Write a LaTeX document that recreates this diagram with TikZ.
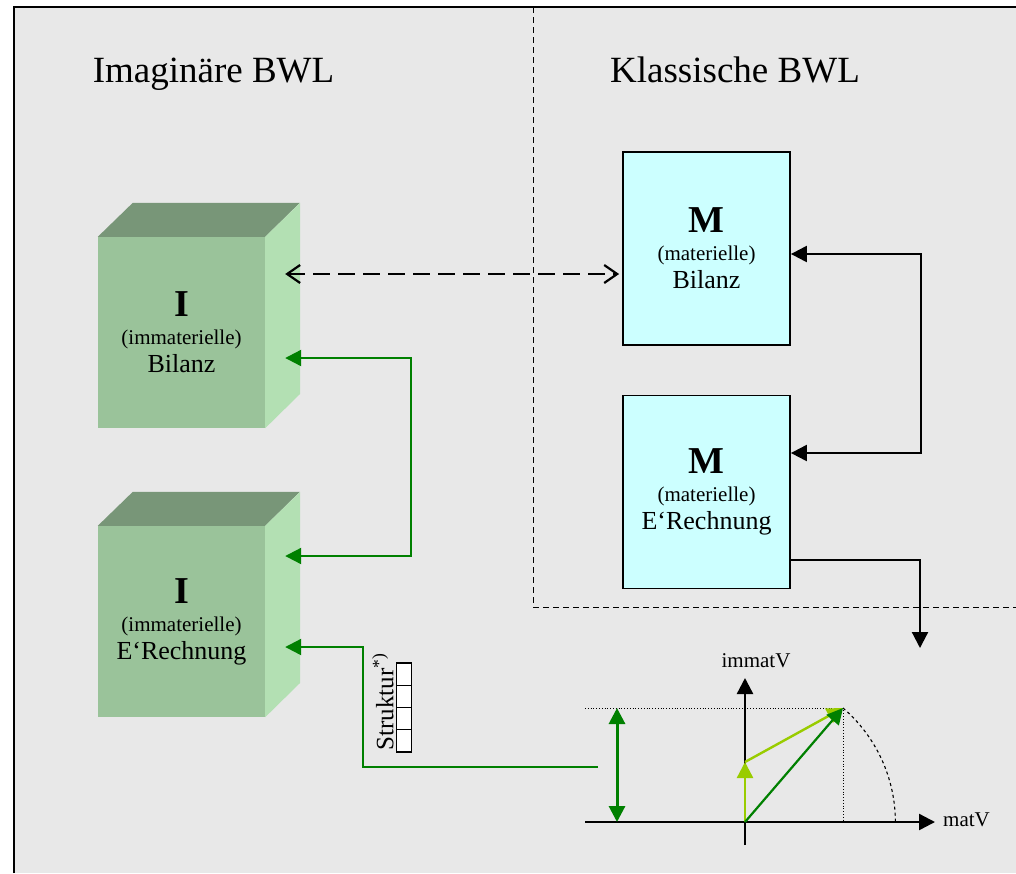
\documentclass[tikz,border=0pt]{standalone}
\usepackage{fontspec}
\setmainfont{Liberation Serif}
\usepackage{tikz}
\usetikzlibrary{arrows.meta,calc}
\definecolor{bggray}{HTML}{E8E8E8}
\definecolor{cfront}{HTML}{9AC39A}
\definecolor{ctop}{HTML}{789678}
\definecolor{cside}{HTML}{B3E0B3}
\definecolor{mcyan}{HTML}{CCFFFF}
\definecolor{dgreen}{HTML}{008000}
\definecolor{lgreen}{HTML}{99CC00}
\newcommand{\boxletter}[1]{{\fontsize{38}{28}\selectfont\bfseries #1}}
\newcommand{\boxname}[1]{{\fontsize{26}{28}\selectfont #1}}

\begin{document}
\begin{tikzpicture}[
  x=1pt, y=-1pt,
  title/.style={font=\fontsize{37}{40}\selectfont, anchor=base},
  front/.style={fill=cfront, minimum width=167pt, minimum height=191pt, align=center, inner sep=0pt, font=\fontsize{21}{28}\selectfont},
  mbox/.style={draw, line width=1.8pt, fill=mcyan, minimum width=167pt, minimum height=193pt, align=center, inner sep=0pt, font=\fontsize{21}{28}\selectfont},
  tip/.tip={Triangle[length=16pt,width=16pt]},
  barr/.style={line width=2.2pt, -tip},
  garr/.style={dgreen, line width=2.2pt, -tip},
  larr/.style={lgreen, line width=2.4pt, -tip},
  axisline/.style={line width=2.4pt, -{Triangle[length=16pt,width=16pt]}},
  cell/.style={draw, line width=1.2pt, fill=white, minimum width=15pt, minimum height=22.25pt, inner sep=0pt},
  lbl/.style={font=\fontsize{21}{21}\selectfont, inner sep=0pt}
]
\useasboundingbox (0,0) rectangle (1016,873);
\fill[white] (0,0) rectangle (1016,873);
\fill[bggray] (14,7) rectangle (1016,873);
\draw[line width=2pt] (14,873) -- (14,7) -- (1016,7);
\draw[line width=0.9pt, dash pattern=on 6pt off 4pt] (533,7) -- (533,607) -- (1016,607);

\node[title] (imag) at (213.5,82) {Imaginäre BWL};
\node[title] (klass) at (735,82) {Klassische BWL};

\node[front] (icube1) at (181.5,332.5) {\boxletter{I}\\(immaterielle)\\\boxname{Bilanz}};
\node[front] (icube2) at (181.5,621.5) {\boxletter{I}\\(immaterielle)\\\boxname{E‘Rechnung}};
\foreach \c in {icube1,icube2}{
  \fill[ctop] (\c.north west) -- ++(35,-34) -- ++(167,0) -- (\c.north east) -- cycle;
  \fill[cside] (\c.north east) -- ++(35,-34) -- ++(0,191) -- (\c.south east) -- cycle;
}

\node[mbox] (mbil) at (706.5,248.5) {\boxletter{M}\\(materielle)\\\boxname{Bilanz}};
\node[mbox] (mer) at (706.5,492) {\boxletter{M}\\(materielle)\\\boxname{E‘Rechnung}};

\draw[line width=2.2pt, dash pattern=on 17pt off 8pt, {Straight Barb[length=13pt,width=18pt]}-{Straight Barb[length=13pt,width=18pt]}]
  ($(icube1.east)+(20,-58.5)$) -- ($(mbil.west)+(-3,25.5)$);
\draw[barr, tip-tip] ($(mbil.east)+(0,5.5)$) -- ++(130,0) |- ($(mer.east)+(0,-39)$);
\coordinate (mout) at (920,648);
\draw[barr] ($(mer.east)+(0,68)$) -| (mout);

\draw[garr, tip-tip] ($(icube1.east)+(20,25.5)$) -- ++(126,0) |- ($(icube2.east)+(20,-65.5)$);
\coordinate (gstart) at (598,767);
\draw[garr] (gstart) -- ++(-235,0) |- ($(icube2.east)+(20,25.5)$);

\node[rotate=90, font=\fontsize{25}{25}\selectfont, inner sep=0pt] (strukt) at (383,702) {Struktur\textsuperscript{*)}};
\foreach \i in {0,1,2,3}
  \node[cell] (cell\i) at (404,{674.1+22.25*\i}) {};

\coordinate (O) at (745,822);
\coordinate (xl) at (585,822);
\coordinate (xr) at (935,822);
\coordinate (yb) at (745,845);
\coordinate (yt) at (745,678);
\coordinate (P) at (843,708);
\coordinate (Q) at (745,762);
\coordinate (hl) at (585,708);
\coordinate (hb) at (843,822);
\coordinate (da) at (617,708);
\coordinate (db) at (617,822);
\draw[dotted, line width=0.8pt] (hl) -- (P) -- (hb);
\draw[dashed, line width=1.1pt] (P) arc[start angle=-49.3, end angle=0, radius=150.5];
\draw[axisline] (xl) -- (xr);
\draw[axisline] (yb) -- (yt);
\draw[dgreen, line width=3pt, tip-tip] (da) -- (db);
\draw[larr] (O) -- (Q);
\draw[larr] (Q) -- (P);
\draw[garr] (O) -- (P);
\node[lbl, anchor=base] (ylab) at (756,667) {immatV};
\node[lbl, anchor=base west] (xlab) at (943,826) {matV};
\end{tikzpicture}
\end{document}
